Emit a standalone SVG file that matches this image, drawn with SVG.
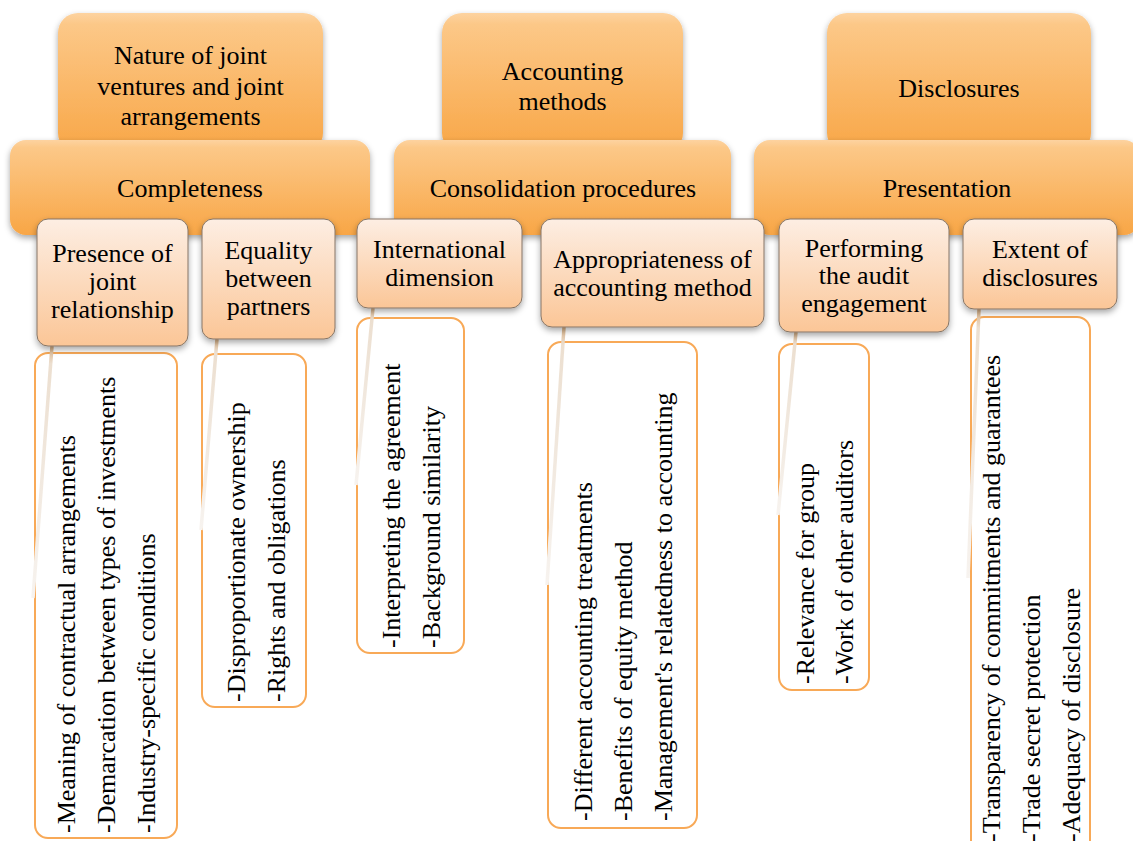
<svg xmlns="http://www.w3.org/2000/svg" width="1133" height="841" viewBox="0 0 1133 841">
<defs>
<linearGradient id="gOrange" x1="0" y1="0" x2="0" y2="1">
<stop offset="0" stop-color="#fdd3a0"/>
<stop offset="0.08" stop-color="#fcc888"/>
<stop offset="1" stop-color="#f8a646"/>
</linearGradient>
<linearGradient id="gPeach" x1="0" y1="0" x2="0" y2="1">
<stop offset="0" stop-color="#fdeee3"/>
<stop offset="1" stop-color="#fbc697"/>
</linearGradient>
<linearGradient id="gLine" x1="0" y1="0" x2="0" y2="1">
<stop offset="0" stop-color="#d8b084"/>
<stop offset="0.07" stop-color="#ecdfd0"/>
<stop offset="1" stop-color="#f7f3ef"/>
</linearGradient>
<filter id="sh" x="-10%" y="-10%" width="120%" height="130%">
<feDropShadow dx="0" dy="3" stdDeviation="3" flood-color="#000" flood-opacity="0.35"/>
</filter>
<style>
.top{fill:url(#gOrange);filter:url(#sh)}
.sub{fill:url(#gPeach);stroke:#857566;stroke-width:1;filter:url(#sh)}
.det{fill:#ffffff;stroke:#f8a957;stroke-width:2}
.t{font-family:"Liberation Serif","Times New Roman",serif;font-size:26px;fill:#000;text-anchor:middle}
.v{font-family:"Liberation Serif","Times New Roman",serif;font-size:26px;fill:#000;text-anchor:start}
.conn{stroke:url(#gLine);stroke-width:3.5;fill:none}
</style>
</defs>
<rect width="1133" height="841" fill="#ffffff"/>

<g id="top-nature">
<rect class="top" x="58" y="13" width="265" height="140" rx="20"/>
<text class="t" x="190.5" y="64">Nature of joint</text>
<text class="t" x="190.5" y="95">ventures and joint</text>
<text class="t" x="190.5" y="125">arrangements</text>
</g>
<g id="top-accounting">
<rect class="top" x="442" y="13" width="241" height="140" rx="20"/>
<text class="t" x="562.5" y="80">Accounting</text>
<text class="t" x="562.5" y="110">methods</text>
</g>
<g id="top-disclosures">
<rect class="top" x="827" y="13" width="264" height="140" rx="20"/>
<text class="t" x="959" y="97">Disclosures</text>
</g>

<g id="bar-completeness">
<rect class="top" x="10" y="140" width="360" height="95" rx="16"/>
<text class="t" x="190" y="197">Completeness</text>
</g>
<g id="bar-consolidation">
<rect class="top" x="394" y="140" width="337" height="95" rx="16"/>
<text class="t" x="563" y="197">Consolidation procedures</text>
</g>
<g id="bar-presentation">
<rect class="top" x="754" y="140" width="386" height="95" rx="16"/>
<text class="t" x="947" y="197">Presentation</text>
</g>

<g id="det-presence">
<rect class="det" x="35" y="353" width="142" height="485" rx="13"/>
<text class="v" transform="translate(75,833) rotate(-90)">-Meaning of contractual arrangements</text>
<text class="v" transform="translate(115,833) rotate(-90)">-Demarcation between types of investments</text>
<text class="v" transform="translate(155,833) rotate(-90)">-Industry-specific conditions</text>
</g>
<g id="det-equality">
<rect class="det" x="202" y="354" width="104" height="353" rx="13"/>
<text class="v" transform="translate(245,702) rotate(-90)">-Disproportionate ownership</text>
<text class="v" transform="translate(285,702) rotate(-90)">-Rights and obligations</text>
</g>
<g id="det-international">
<rect class="det" x="357" y="318" width="107" height="335" rx="13"/>
<text class="v" transform="translate(400,648) rotate(-90)">-Interpreting the agreement</text>
<text class="v" transform="translate(440,648) rotate(-90)">-Background similarity</text>
</g>
<g id="det-appropriateness">
<rect class="det" x="548" y="342" width="149" height="486" rx="13"/>
<text class="v" transform="translate(592,821) rotate(-90)">-Different accounting treatments</text>
<text class="v" transform="translate(632,821) rotate(-90)">-Benefits of equity method</text>
<text class="v" transform="translate(672,821) rotate(-90)">-Management's relatedness to accounting</text>
</g>
<g id="det-performing">
<rect class="det" x="779" y="344" width="90" height="346" rx="13"/>
<text class="v" transform="translate(814,684) rotate(-90)">-Relevance for group</text>
<text class="v" transform="translate(853,684) rotate(-90)">-Work of other auditors</text>
</g>
<g id="det-extent">
<rect class="det" x="971" y="317" width="119" height="540" rx="13"/>
<text class="v" transform="translate(1000,842) rotate(-90)">-Transparency of commitments and guarantees</text>
<text class="v" transform="translate(1040,842) rotate(-90)">-Trade secret protection</text>
<text class="v" transform="translate(1080,842) rotate(-90)">-Adequacy of disclosure</text>
</g>

<g id="connectors">
<line class="conn" x1="52" y1="346" x2="33" y2="598"/>
<line class="conn" x1="217" y1="339" x2="201" y2="530"/>
<line class="conn" x1="373" y1="308" x2="356" y2="485"/>
<line class="conn" x1="564" y1="327" x2="547" y2="585"/>
<line class="conn" x1="796" y1="332" x2="778" y2="515"/>
<line class="conn" x1="979" y1="309" x2="968" y2="578"/>
</g>

<g id="sub-presence">
<rect class="sub" x="37" y="219" width="151" height="127" rx="11"/>
<text class="t" x="112.5" y="262">Presence of</text>
<text class="t" x="112.5" y="290">joint</text>
<text class="t" x="112.5" y="318">relationship</text>
</g>
<g id="sub-equality">
<rect class="sub" x="202" y="219" width="133" height="120" rx="11"/>
<text class="t" x="268.5" y="259">Equality</text>
<text class="t" x="268.5" y="287">between</text>
<text class="t" x="268.5" y="315">partners</text>
</g>
<g id="sub-international">
<rect class="sub" x="357" y="219" width="165" height="89" rx="11"/>
<text class="t" x="439.5" y="258">International</text>
<text class="t" x="439.5" y="286">dimension</text>
</g>
<g id="sub-appropriateness">
<rect class="sub" x="541" y="219" width="223" height="108" rx="11"/>
<text class="t" x="652.5" y="268">Appropriateness of</text>
<text class="t" x="652.5" y="296">accounting method</text>
</g>
<g id="sub-performing">
<rect class="sub" x="779" y="219" width="170" height="113" rx="11"/>
<text class="t" x="864" y="257">Performing</text>
<text class="t" x="864" y="284">the audit</text>
<text class="t" x="864" y="312">engagement</text>
</g>
<g id="sub-extent">
<rect class="sub" x="963" y="219" width="154" height="90" rx="11"/>
<text class="t" x="1040" y="258">Extent of</text>
<text class="t" x="1040" y="286">disclosures</text>
</g>
</svg>
